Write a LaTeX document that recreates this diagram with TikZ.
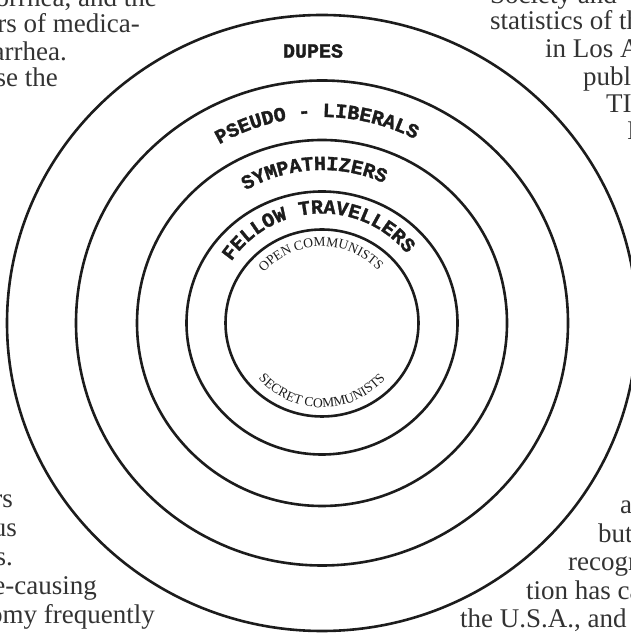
\documentclass[tikz,border=0pt]{standalone}
\usepackage{fontspec}
\setmainfont{Liberation Serif}
\newfontfamily\monoband{Liberation Mono}[BoldFeatures={FakeBold=1.6}]
\usetikzlibrary{shapes.geometric}
\usetikzlibrary{decorations.text}
\definecolor{ink}{RGB}{28,28,28}
\newcommand{\bandfont}{\color{ink}\monoband\bfseries\fontsize{20}{20}\selectfont}
\newcommand{\smallband}{\color{ink}\fontsize{13.5}{13.5}\selectfont}
\tikzstyle{ring} = [ellipse, draw=ink, line width=2.6pt, inner sep=0pt, outer sep=0pt]
\tikzstyle{band} = [decorate, decoration={text along path, text align=center}]
\tikzstyle{page} = [font=\fontsize{27}{30}\selectfont, text=ink!90, inner sep=0pt]

\begin{document}
\begin{tikzpicture}[x=1pt, y=1pt]
        \useasboundingbox (0,0) rectangle (631,634);
        \clip (0,0) rectangle (631,634);
        \coordinate (c) at (322,311);

        % rings, outside in
        \node[ring, minimum width=630pt, minimum height=616pt] (dupes) at (c) {};
        \node[ring, minimum width=492pt, minimum height=485pt] (liberals) at (c) {};
        \node[ring, minimum width=370pt, minimum height=366pt] (sympath) at (c) {};
        \node[ring, minimum width=271pt, minimum height=263pt] (fellows) at (c) {};
        \node[ring, minimum width=193pt, minimum height=187pt] (communists) at (c) {};

        % ring labels
        \node[font=\bandfont, inner sep=0pt] (dupesLbl) at (313,583) {DUPES};
        \path[band, decoration={text={|\bandfont|PSEUDO - LIBERALS}}]
            ([shift={(150:206)}]c) arc[start angle=150, end angle=33, radius=206];
        \path[band, decoration={text={|\bandfont|SYMPATHIZERS}}]
            ([shift={(150:153)}]c) arc[start angle=150, end angle=36, radius=153];
        \path[band, decoration={text={|\bandfont|FELLOW TRAVELLERS}}]
            ([shift={(175:109.5)}]c) arc[start angle=175, end angle=10, radius=109.5];
        \path[band, decoration={text={|\smallband|OPEN COMMUNISTS}}]
            ([shift={(171:76.5)}]c) arc[start angle=171, end angle=11, radius=76.5];
        \path[band, decoration={text={|\smallband|SECRET COMMUNISTS}}]
            ([shift={(200:84.5)}]c) arc[start angle=200, end angle=340, radius=84.5];

        % page text round the figure
        \node[page, anchor=base east] (lt1) at (157,627) {orrhea, and the};
        \node[page, anchor=base east] (lt2) at (140,601) {ers of medica-};
        \node[page, anchor=base east] (lt3) at (67,573) {arrhea.};
        \node[page, anchor=base east] (lt4) at (58,547) {se the};

        \node[page, anchor=base west] (rt1) at (490,630) {Society and};
        \node[page, anchor=base west] (rt2) at (490,604) {statistics of th};
        \node[page, anchor=base west] (rt3) at (545,576) {in Los A};
        \node[page, anchor=base west] (rt4) at (583,548) {publi};
        \node[page, anchor=base west] (rt5) at (606,521) {TI};
        \node[page, anchor=base west] (rt6) at (627,494) {I};

        \node[page, anchor=base east] (lb1) at (13,126) {rs};
        \node[page, anchor=base east] (lb2) at (17,97) {us};
        \node[page, anchor=base east] (lb3) at (13,68) {s.};
        \node[page, anchor=base east] (lb4) at (97,39) {e-causing};
        \node[page, anchor=base east] (lb5) at (155,10) {omy frequently};

        \node[page, anchor=base west] (rb1) at (620,120) {a};
        \node[page, anchor=base west] (rb2) at (598,91.5) {but};
        \node[page, anchor=base west] (rb3) at (568,63) {recogn};
        \node[page, anchor=base west] (rb4) at (526,34.5) {tion has ca};
        \node[page, anchor=base west] (rb5) at (460,6) {the U.S.A., and};
    \end{tikzpicture}
\end{document}
